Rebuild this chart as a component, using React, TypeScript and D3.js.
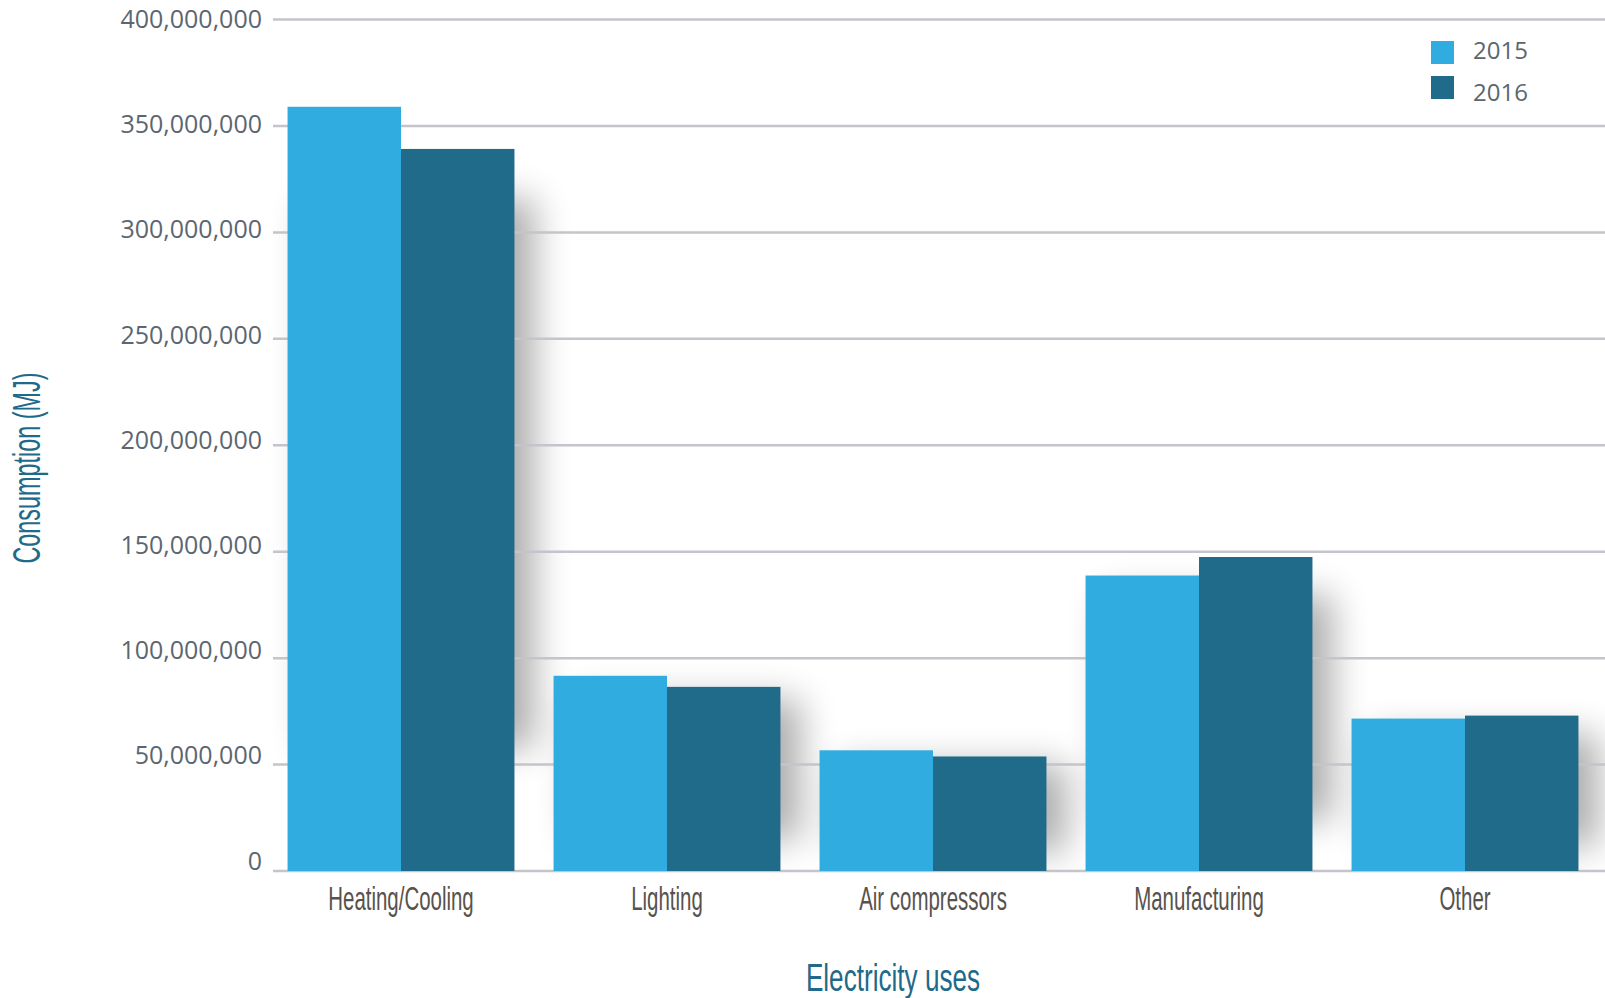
import React from "react";
import * as d3 from "d3";

const categories = ["Heating/Cooling", "Lighting", "Air compressors", "Manufacturing", "Other"];
const seriesNames = ["2015", "2016"];
const values2015 = [359.0e6, 91.7e6, 56.7e6, 138.8e6, 71.6e6];
const values2016 = [339.2e6, 86.5e6, 53.8e6, 147.5e6, 73.0e6];
const yTicks = [0, 50e6, 100e6, 150e6, 200e6, 250e6, 300e6, 350e6, 400e6];
const seriesColors = ["#30ace0", "#206a8a"];
const xTitle = "Electricity uses";
const yTitle = "Consumption (MJ)";

const W = 1605;
const H = 998;

export default function App() {
  const y = d3.scaleLinear().domain([0, 400e6]).range([871, 19.5]);
  const labelY = d3.scaleLinear().domain([0, 400e6]).range([869.5, 28]);
  const x0 = d3
    .scaleBand<string>()
    .domain(categories)
    .range([268, 1598])
    .paddingInner(0.147)
    .paddingOuter(0.0735);
  const x1 = d3.scaleBand<string>().domain(seriesNames).range([0, x0.bandwidth()]).padding(0);
  const fmt = d3.format(",");
  const data = categories.map((c, i) => ({ cat: c, vals: [values2015[i], values2016[i]] }));
  const gridX0 = 273;

  const labelFont = "'Open Sans', 'Noto Sans', sans-serif";
  const condFont = "'Liberation Sans Narrow', 'Liberation Sans', sans-serif";

  return (
    <svg width={W} height={H} style={{ position: "absolute", left: 0, top: 0, background: "#fff" }}>
      <defs>
        <filter id="shadow" x="-50%" y="-50%" width="200%" height="200%">
          <feGaussianBlur stdDeviation="18" />
        </filter>
        <clipPath id="plotclip">
          <rect x={0} y={0} width={W} height={y(0)} />
        </clipPath>
      </defs>

      {/* shadows */}
      <g clipPath="url(#plotclip)">
        {data.map((d) => {
          const top = y(Math.max(d.vals[0], d.vals[1]));
          const h = y(0) - top;
          return (
            <rect
              key={"s" + d.cat}
              x={(x0(d.cat) as number) + 20}
              y={top + h * 0.12}
              width={x0.bandwidth()}
              height={h * 0.72}
              fill="#000"
              opacity={0.32}
              filter="url(#shadow)"
            />
          );
        })}
      </g>

      {/* gridlines */}
      {yTicks.map((t) => (
        <line key={"g" + t} x1={gridX0} x2={W} y1={y(t)} y2={y(t)} stroke="#c4c4ca" strokeWidth={2.5} />
      ))}

      {/* tick labels */}
      {yTicks.map((t) => (
        <text
          key={"t" + t}
          x={262}
          y={labelY(t)}
          textAnchor="end"
          fontFamily={labelFont}
          fontSize={25}
          fill="#5b6670"
        >
          {fmt(t)}
        </text>
      ))}

      {/* bars */}
      {data.map((d) => (
        <g key={d.cat} transform={`translate(${x0(d.cat)},0)`}>
          {d.vals.map((v, j) => (
            <rect
              key={j}
              x={x1(seriesNames[j])}
              y={y(v)}
              width={x1.bandwidth()}
              height={y(0) - y(v)}
              fill={seriesColors[j]}
            />
          ))}
        </g>
      ))}

      {/* category labels */}
      {categories.map((c) => (
        <text
          key={"c" + c}
          transform={`translate(${(x0(c) as number) + x0.bandwidth() / 2},910) scale(0.62,1)`}
          textAnchor="middle"
          fontFamily={condFont}
          fontSize={33}
          fill="#57524d"
        >
          {c}
        </text>
      ))}

      {/* axis titles */}
      <text
        transform={`translate(${(x0.range()[0] + x0.range()[1]) / 2 - 40},991) scale(0.67,1)`}
        textAnchor="middle"
        fontFamily={condFont}
        fontSize={39}
        fill="#1f6a8a"
      >
        {xTitle}
      </text>
      <text
        transform={`translate(40,468) rotate(-90) scale(0.6,1)`}
        textAnchor="middle"
        fontFamily={condFont}
        fontSize={39}
        fill="#1f6a8a"
      >
        {yTitle}
      </text>

      {/* legend */}
      {seriesNames.map((s, i) => (
        <g key={"l" + s} transform={`translate(1431,${41 + i * 35})`}>
          <rect x={0} y={0} width={23} height={23} fill={seriesColors[i]} />
          <text x={42} y={17.5 + i * 7} fontFamily={labelFont} fontSize={24} fill="#5b6670">
            {s}
          </text>
        </g>
      ))}
    </svg>
  );
}
